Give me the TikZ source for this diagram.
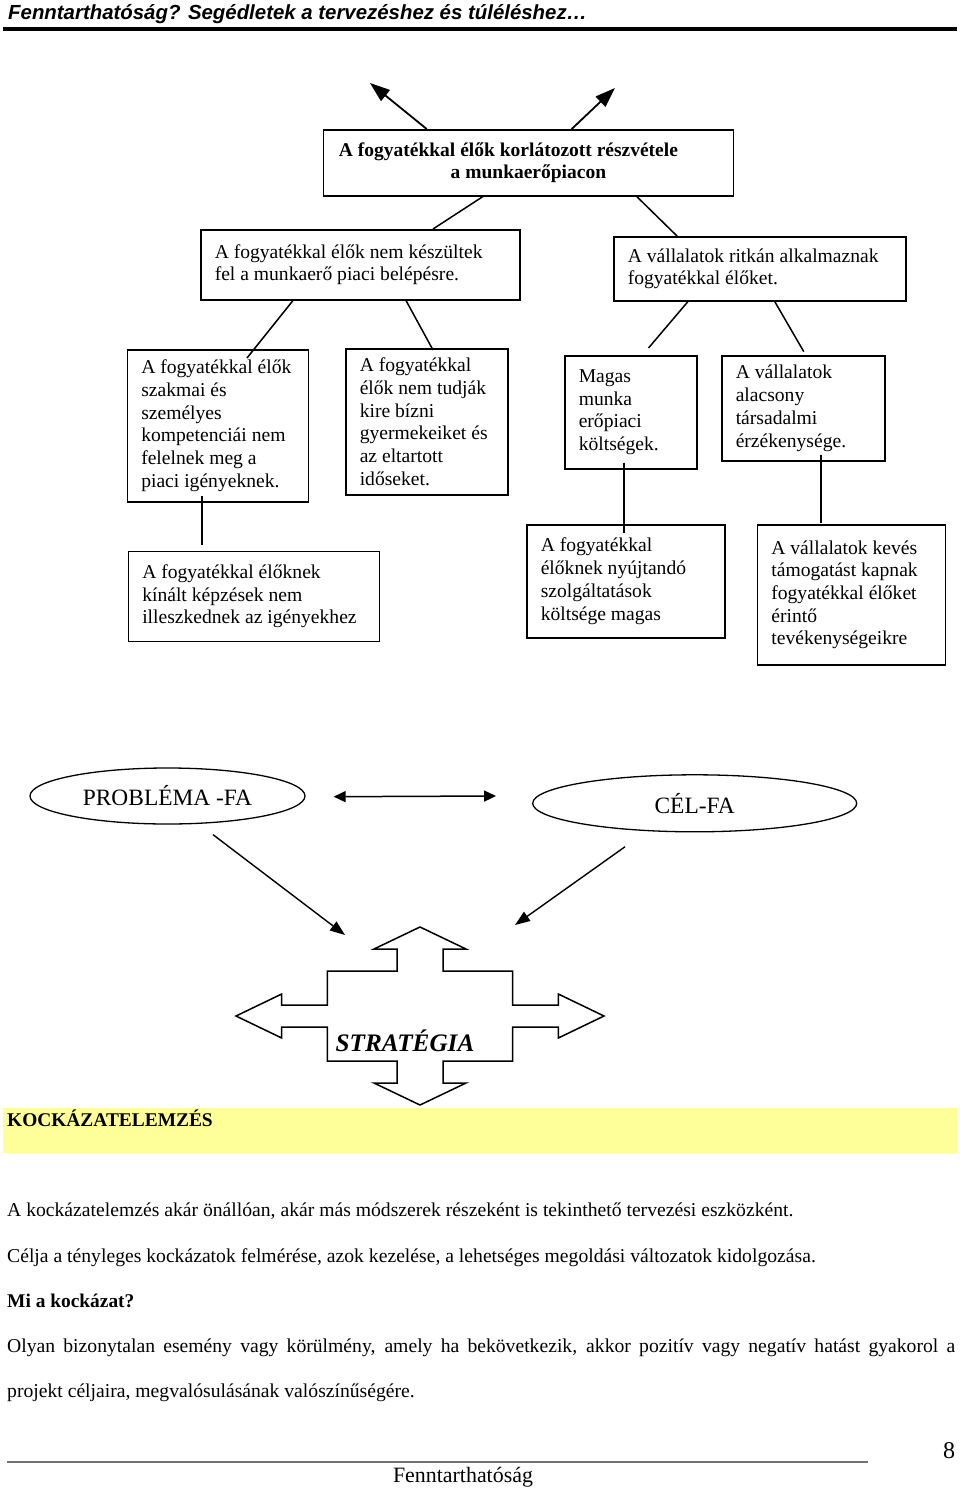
\documentclass[tikz,border=0pt]{standalone}
\usepackage{fontspec}
\setmainfont{Liberation Serif}
\newfontfamily\fejbetu{Liberation Sans}
\usetikzlibrary{arrows.meta,calc,shapes.geometric}
\definecolor{sarga}{RGB}{255,255,153}

\begin{document}
\begin{tikzpicture}[x=1pt,y=-1pt]
	\tikzstyle{doboz}=[draw,line width=1.5pt,anchor=north west,inner xsep=14pt,inner ysep=0pt,align=flush left,font=\fontsize{19.6}{22.7}\selectfont]
	\tikzstyle{ovalis}=[draw,ellipse,line width=1.3pt,inner sep=0pt,font=\fontsize{23.4}{26}\selectfont]
	\tikzstyle{vonal}=[line width=1.5pt]
	\tikzstyle{nyil}=[line width=1.4pt,-{Triangle[length=15pt,width=11pt]}]
	\tikzstyle{nyilfent}=[line width=1.8pt,-{Triangle[length=20pt,width=14pt]}]
	\tikzstyle{sor}=[anchor=base west,inner sep=0pt,font=\fontsize{19.65}{22}\selectfont]
	\fill[white] (0,0) rectangle (960,1488);
	\useasboundingbox (0,0) rectangle (960,1488);
	% fejlec
	\node[anchor=base west,inner sep=0pt,font=\fejbetu\bfseries\itshape\fontsize{20.4}{22}\selectfont] (fejlec) at (8,19.3) {Fenntarthatóság? Segédletek a tervezéshez és túléléshez…};
	\draw[line width=4pt] (3,29) -- (957,29);
	% problemafa
	\node[doboz,align=flush center,text width=382pt,minimum height=66pt,font=\bfseries\fontsize{19.5}{21.7}\selectfont] (fo) at (322.7,129) {A fogyatékkal élők korlátozott részvétele\hspace{40pt}\mbox{}\\ a munkaerőpiacon};
	\node[doboz,text width=291pt,minimum height=70pt] (ok1) at (200,229) {A fogyatékkal élők nem készültek\\ fel a munkaerő piaci belépésre.}; % bal
	\node[doboz,text width=264pt,minimum height=64pt] (ok2) at (613,236) {A vállalatok ritkán alkalmaznak\\ fogyatékkal élőket.}; % jobb
	\node[doboz,text width=153pt,minimum height=152pt] (a1) at (126.5,349) {A fogyatékkal élők\\ szakmai és\\ személyes\\ kompetenciái nem\\ felelnek meg a\\ piaci igényeknek.};
	\node[doboz,text width=134pt,minimum height=146pt] (a2) at (345,348) {A fogyatékkal\\ élők nem tudják\\ kire bízni\\ gyermekeiket és\\ az eltartott\\ időseket.};
	\node[doboz,text width=104pt,minimum height=113pt] (a3) at (564,355) {Magas\\ munka\\ erőpiaci\\ költségek.};
	\node[doboz,text width=135pt,minimum height=105pt] (a4) at (721,355) {A vállalatok\\ alacsony\\ társadalmi\\ érzékenysége.};
	\node[doboz,text width=223pt,minimum height=90pt] (b1) at (127.5,550.7) {A fogyatékkal élőknek\\ kínált képzések nem\\ illeszkednek az igényekhez};
	\node[doboz,text width=170pt,minimum height=113pt] (b2) at (526,524) {A fogyatékkal\\ élőknek nyújtandó\\ szolgáltatások\\ költsége magas};
	\node[doboz,text width=160pt,minimum height=140pt] (b3) at (756.6,524) {A vállalatok kevés\\ támogatást kapnak\\ fogyatékkal élőket\\ érintő\\ tevékenységeikre};
	\coordinate (felB) at (370,83);
	\coordinate (felJ) at (615,88);
	\draw[nyilfent] ($(fo.north west)+(104,0)$) -- (felB);
	\draw[nyilfent] ($(fo.north west)+(249,0)$) -- (felJ);
	\draw[vonal] ($(fo.south west)+(160.3,0)$) -- ($(ok1.north west)+(233,0)$);
	\draw[vonal] ($(fo.south west)+(314,0)$) -- ($(ok2.north west)+(64,0)$);
	\draw[vonal] ($(ok1.south west)+(93,0)$) -- ($(a1.north west)+(120.5,9)$);
	\draw[vonal] ($(ok1.south west)+(206,0)$) -- ($(a2.north west)+(88,2)$);
	\draw[vonal] ($(ok2.south west)+(75,0)$) -- ($(a3.north west)+(84.5,-7)$);
	\draw[vonal] ($(ok2.south west)+(161.7,0)$) -- ($(a4.north west)+(82.8,-3.3)$);
	\draw[vonal] ($(a1.south west)+(75.5,-7)$) -- ($(b1.north west)+(74.5,-6)$);
	\draw[vonal] ($(a3.south west)+(60,-7)$) -- ($(b2.north west)+(98,9)$);
	\draw[vonal] ($(a4.south west)+(100,-7)$) -- ($(b3.north west)+(64.4,-1)$);
	% problemafa - celfa - strategia
	\node[ovalis,minimum width=275pt,minimum height=56pt] (prob) at (167.5,796) {PROBLÉMA -FA};
	\node[ovalis,minimum width=324pt,minimum height=57pt] (cel) at (694.7,803.3) {CÉL-FA};
	\draw[vonal,{Triangle[length=12pt,width=11pt]}-{Triangle[length=12pt,width=11pt]}] ($(prob.east)+(28,0.7)$) -- ($(cel.west)+(-36,-7.3)$);
	\coordinate (strat) at (420,1016);
	\draw[nyil] ($(prob.south)+(45.5,10)$) -- ($(strat)+(-75,-81)$);
	\draw[nyil] ($(cel.south)+(-69.7,14.3)$) -- ($(strat)+(95,-91)$);
	\draw[line width=1.5pt,shift={(strat)}] (0,-89) -- (46,-67) -- (23,-67) -- (23,-45) -- (92.7,-45) -- (92.7,-11) -- (138.3,-11) -- (138.3,-22) -- (184,0) -- (138.3,22) -- (138.3,11) -- (92.7,11) -- (92.7,45) -- (23,45) -- (23,67) -- (46,67) -- (0,89) -- (-46,67) -- (-23,67) -- (-23,45) -- (-92.7,45) -- (-92.7,11) -- (-138.3,11) -- (-138.3,22) -- (-184,0) -- (-138.3,-22) -- (-138.3,-11) -- (-92.7,-11) -- (-92.7,-45) -- (-23,-45) -- (-23,-67) -- (-46,-67) -- cycle;
	\node[anchor=base,inner sep=0pt,font=\bfseries\itshape\fontsize{25.2}{28}\selectfont] (strattext) at (405,1051) {STRATÉGIA};
	% kockazatelemzes
	\fill[sarga] (3,1108) rectangle (957,1153);
	\node[sor,font=\bfseries\fontsize{19.4}{22}\selectfont] (cim) at (7,1126) {KOCKÁZATELEMZÉS};
	\node[sor] (s1) at (7,1216) {A kockázatelemzés akár önállóan, akár más módszerek részeként is tekinthető tervezési eszközként.};
	\node[sor] (s2) at (7,1262) {Célja a tényleges kockázatok felmérése, azok kezelése, a lehetséges megoldási változatok kidolgozása.};
	\node[sor,font=\bfseries\fontsize{19.4}{22}\selectfont] (s3) at (7,1307) {Mi a kockázat?};
	\node[sor] (s4) at (7,1352) {\makebox[948pt][s]{Olyan bizonytalan esemény vagy körülmény, amely ha bekövetkezik, akkor pozitív vagy negatív hatást gyakorol a}};
	\node[sor] (s5) at (7,1397) {projekt céljaira, megvalósulásának valószínűségére.};
	% lablec
	\draw[black!55,line width=2.5pt] (7,1462) -- (868,1462);
	\node[anchor=base,inner sep=0pt,font=\fontsize{21.9}{24}\selectfont] (lab) at (463,1482.7) {Fenntarthatóság};
	\node[anchor=base,inner sep=0pt,font=\fontsize{24}{26}\selectfont] (oldal) at (949,1458) {8};
\end{tikzpicture}
\end{document}
